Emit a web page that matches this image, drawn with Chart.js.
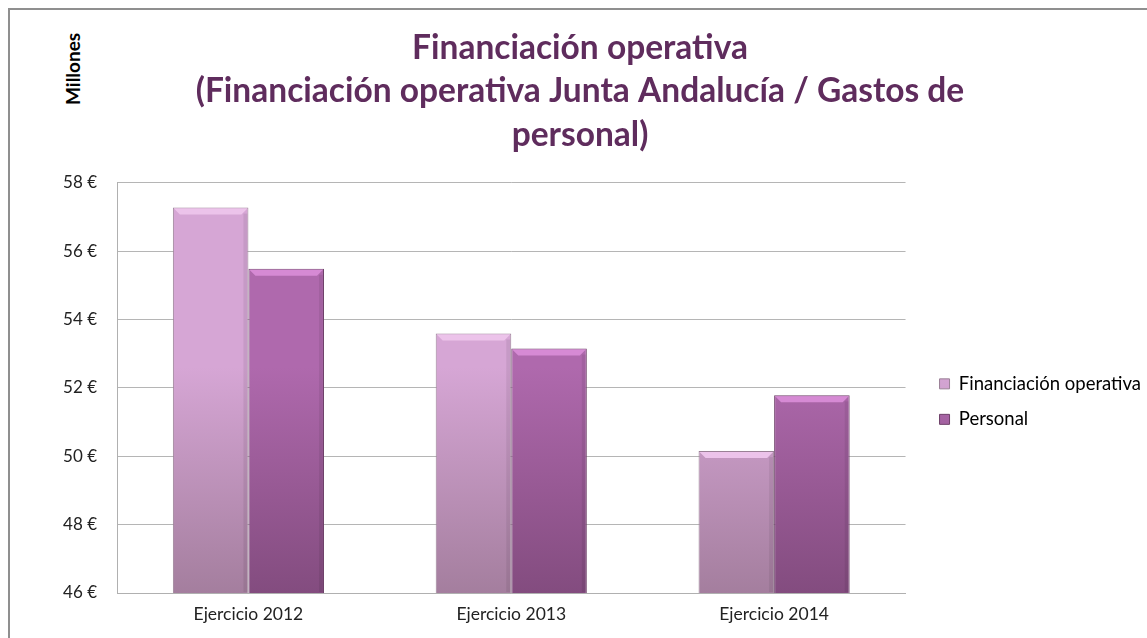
<!DOCTYPE html>
<html lang="es">
<head>
<meta charset="UTF-8">
<title>Financiación operativa</title>
<script src="https://cdn.jsdelivr.net/npm/chart.js"></script>
<style>
  html, body { margin: 0; padding: 0; background: #fff; }
  .wrap { position: relative; width: 1147px; height: 638px; overflow: hidden; }
  .frame { position: absolute; left: 8px; top: 8px; width: 1200px; height: 700px;
           border-left: 2px solid #8f8f8f; border-top: 2px solid #8f8f8f; }
  .unit { position: absolute; left: 61px; top: 105px; transform: rotate(-90deg); transform-origin: 0 0;
          font: bold 19px Lato, "Open Sans", sans-serif; color: #000; white-space: nowrap; }
  canvas { position: absolute; left: 0; top: 0; }
</style>
</head>
<body>
<div class="wrap">
  <div class="frame"></div>
  <div class="unit">Millones</div>
  <canvas id="chart" width="1147" height="638"></canvas>
</div>
<script>
// datos
const categorias = ['Ejercicio 2012', 'Ejercicio 2013', 'Ejercicio 2014'];
const financiacion = [57.27, 53.59, 50.15];
const personal = [55.48, 53.15, 51.78];
const ticksY = [46, 48, 50, 52, 54, 56, 58];

const fuente = 'Lato, "Open Sans", sans-serif';

// degradado vertical por serie
function degradado(arriba, abajo) {
    return function(ctx) {
        const area = ctx.chart.chartArea;
        if (!area) return arriba;
        const g = ctx.chart.ctx.createLinearGradient(0, area.top, 0, area.bottom);
        g.addColorStop(0, arriba);
        g.addColorStop(0.45, arriba);
        g.addColorStop(1, abajo);
        return g;
    };
}

// biselado superior de las barras
const bisel = {
    id: 'bisel',
    afterDatasetsDraw(chart) {
        const ctx = chart.ctx;
        const fondo = chart.chartArea.bottom;
        const colores = ['#ecc3ea', '#d68ad4'];
        chart.data.datasets.forEach((ds, i) => {
            chart.getDatasetMeta(i).data.forEach(bar => {
                const l = bar.x - bar.width / 2, r = bar.x + bar.width / 2, t = bar.y;
                ctx.save();
                ctx.fillStyle = colores[i];
                ctx.beginPath();
                ctx.moveTo(l + 1, t + 1);
                ctx.lineTo(r - 1, t + 1);
                ctx.lineTo(r - 7, t + 7);
                ctx.lineTo(l + 7, t + 7);
                ctx.closePath();
                ctx.fill();
                ctx.fillStyle = 'rgba(0,0,0,0.07)';
                ctx.fillRect(r - 5, t + 6, 4, fondo - t - 7);
                ctx.restore();
            });
        });
    }
};

// separa un poco la leyenda del área del gráfico
const moverLeyenda = {
    id: 'moverLeyenda',
    afterLayout(chart) {
        if (chart.legend) {
            chart.legend.left += 17;
            chart.legend.right += 17;
        }
    }
};

new Chart(document.getElementById('chart'), {
    type: 'bar',
    data: {
        labels: categorias,
        datasets: [{
            label: 'Financiación operativa',
            data: financiacion,
            backgroundColor: degradado('#d6a6d5', '#a47e9e'),
            borderColor: '#9a8096',
            borderWidth: 1,
            categoryPercentage: 0.575,
            barPercentage: 1
        }, {
            label: 'Personal',
            data: personal,
            backgroundColor: degradado('#af69ad', '#834c7f'),
            borderColor: '#6e4069',
            borderWidth: 1,
            categoryPercentage: 0.575,
            barPercentage: 1
        }]
    },
    options: {
        responsive: false,
        animation: false,
        layout: { padding: { left: 26, right: 13, top: 0, bottom: 0 } },
        plugins: {
            title: {
                display: true,
                text: ['Financiación operativa', '(Financiación operativa Junta Andalucía / Gastos de', 'personal)'],
                color: '#5f2c5d',
                font: { family: fuente, size: 33.5, weight: 'bold', lineHeight: 1.3 },
                padding: { top: 26, bottom: 26 }
            },
            legend: {
                position: 'right',
                title: { display: true, text: ' ', font: { size: 1 }, padding: { top: 0, bottom: 164 } },
                labels: {
                    color: '#000',
                    font: { family: fuente, size: 18.5 },
                    boxWidth: 10,
                    boxHeight: 10,
                    padding: 17
                }
            },
            tooltip: { enabled: false }
        },
        scales: {
            x: {
                grid: { display: false },
                border: { display: true, color: '#b0b0b0' },
                afterFit: axis => { axis.height = 45; },
                ticks: { color: '#222', font: { family: fuente, size: 17.5 }, padding: 3 }
            },
            y: {
                min: ticksY[0],
                max: ticksY[ticksY.length - 1],
                afterBuildTicks: axis => { axis.ticks = ticksY.map(v => ({ value: v })); },
                afterFit: axis => { axis.width = 91; },
                grid: { color: '#b5b5b5', drawTicks: false },
                border: { display: true, color: '#b0b0b0' },
                ticks: {
                    color: '#222',
                    font: { family: fuente, size: 17 },
                    padding: 20,
                    callback: v => v + ' €'
                }
            }
        }
    },
    plugins: [bisel, moverLeyenda]
});
</script>
</body>
</html>
